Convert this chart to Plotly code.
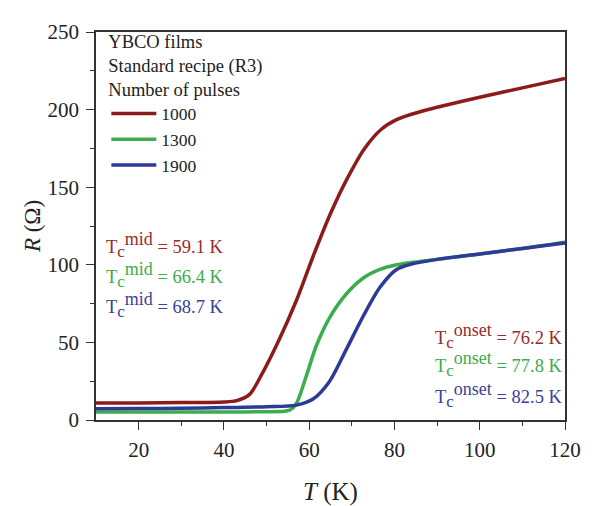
import plotly.graph_objects as go

# Temperature (K) and resistance (Ohm)
T_1000 = [10, 20, 30, 40, 43, 46, 49, 53, 57, 61, 65, 69, 73, 77, 80.5, 84, 90, 100, 110, 120]
R_1000 = [11, 11, 11.2, 11.6, 12.5, 16.5, 30, 52, 77, 106, 133, 156, 175, 187.5, 193.5, 197, 201.5, 208, 214, 220]

T_1300 = [10, 20, 30, 40, 50, 54, 55.5, 57, 59.4, 61.7, 64.8, 68.8, 72.7, 76.6, 80.5, 84, 90, 100, 110, 120]
R_1300 = [5.2, 5.2, 5.2, 5.2, 5.3, 5.6, 6.4, 10.6, 29, 48, 66, 81.5, 91.5, 97, 100, 101.5, 103.5, 107, 110.5, 114.5]

T_1900 = [10, 20, 30, 40, 50, 57, 61, 64.8, 68.8, 72.7, 76.6, 80.5, 84, 90, 100, 110, 120]
R_1900 = [7.3, 7.4, 7.6, 8, 8.6, 9.6, 13.7, 25, 46, 67, 85.5, 97, 100.5, 103.5, 107, 110.5, 114]

series = [("1000", T_1000, R_1000, "#8c1c1c"),
          ("1300", T_1300, R_1300, "#3cad4e"),
          ("1900", T_1900, R_1900, "#2e3a97")]

mid_labels = ["59.1 K", "66.4 K", "68.7 K"]
onset_labels = ["76.2 K", "77.8 K", "82.5 K"]
text_colors = ["#9a2a2a", "#3cab4c", "#3b4198"]

FONT = "Liberation Serif"

fig = go.Figure()
for name, t, r, c in series:
    fig.add_trace(go.Scatter(x=t, y=r, mode="lines", name=name,
                             line=dict(color=c, width=3.5, shape="spline", smoothing=0.8)))


def tc_label(kind, value):
    return ("T<sub><span style='font-size:17px'>c</span></sub>"
            "<sup><span style='font-size:18px'>" + kind + "</span></sup>"
            " = " + value)


ann = []
mid_y = [0.452, 0.374, 0.296]
for lab, yy, col in zip(mid_labels, mid_y, text_colors):
    ann.append(dict(xref="paper", yref="paper", x=0.018, y=yy, xanchor="left", yanchor="middle",
                    text=tc_label("mid", lab), showarrow=False,
                    font=dict(family=FONT, size=18.5, color=col)))
onset_y = [0.216, 0.144, 0.064]
for lab, yy, col in zip(onset_labels, onset_y, text_colors):
    ann.append(dict(xref="paper", yref="paper", x=1.0, y=yy, xanchor="right", yanchor="middle",
                    text=tc_label("onset", lab), showarrow=False,
                    font=dict(family=FONT, size=18.5, color=col)))

axis_common = dict(showline=True, linecolor="#333", linewidth=1.5, mirror=True,
                   ticks="outside", ticklen=8, tickwidth=1.3, tickcolor="#333",
                   showgrid=False, zeroline=False,
                   tickfont=dict(family=FONT, size=21, color="#222"))

# the page body adds an 8px offset; margins compensate so the plot area lands at x 96-565, y 20-420
fig.update_layout(
    width=595, height=506,
    margin=dict(l=88, r=38, t=12, b=94),
    paper_bgcolor="white", plot_bgcolor="white",
    font=dict(family=FONT, color="#222"),
    xaxis=dict(range=[10, 120], tickvals=[20, 40, 60, 80, 100, 120],
               minor=dict(tickvals=[30, 50, 70, 90, 110], ticks="outside", ticklen=4, tickcolor="#333"),
               title=dict(text="<i>T</i> (K)", font=dict(family=FONT, size=25), standoff=22),
               ticklabelstandoff=2,
               **axis_common),
    yaxis=dict(range=[0, 250], tickvals=[0, 50, 100, 150, 200, 250],
               minor=dict(tickvals=[25, 75, 125, 175, 225], ticks="outside", ticklen=4, tickcolor="#333"),
               title=dict(text="<i>R</i> (Ω)", font=dict(family=FONT, size=23), standoff=0),
               ticklabelstandoff=3,
               **axis_common),
    legend=dict(x=0.022, y=1.022, xanchor="left", yanchor="top",
                bgcolor="rgba(0,0,0,0)",
                title=dict(text="YBCO films<br>Standard recipe (R3)<br>Number of pulses",
                           font=dict(family=FONT, size=18.5, color="#222")),
                font=dict(family=FONT, size=17.5, color="#222"),
                tracegroupgap=0, itemwidth=45),
    showlegend=True,
    annotations=ann,
)

fig.write_html("out.html")
